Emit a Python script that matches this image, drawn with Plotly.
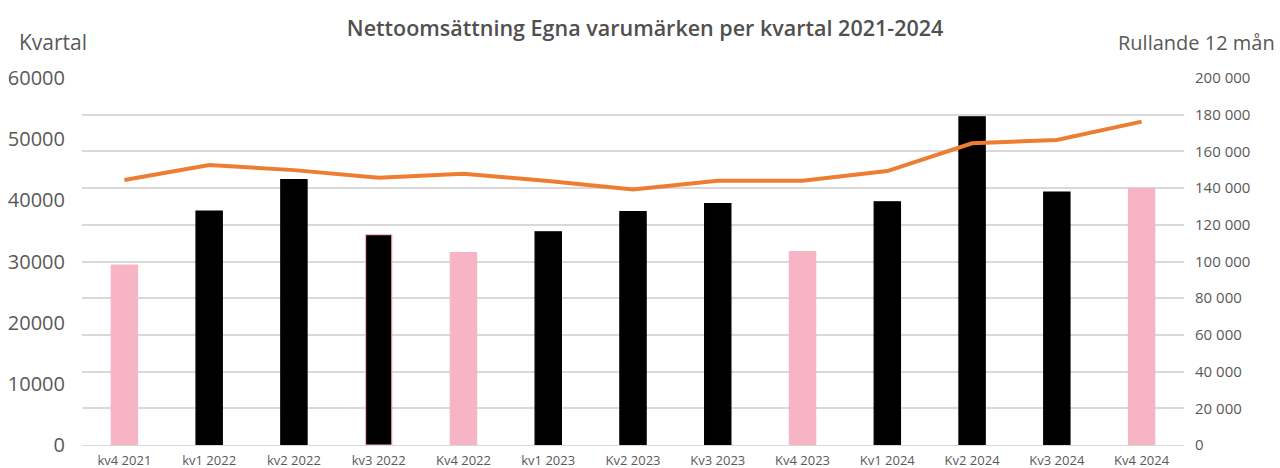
import plotly.graph_objects as go

categories = ["kv4 2021", "kv1 2022", "kv2 2022", "kv3 2022", "Kv4 2022", "kv1 2023",
              "Kv2 2023", "Kv3 2023", "Kv4 2023", "Kv1 2024", "Kv2 2024", "Kv3 2024", "Kv4 2024"]
kvartal = [29400, 38250, 43400, 34400, 31450, 34850, 38150, 39450, 31600, 39750, 53650, 41350, 41950]
rullande = [144400, 152600, 149800, 145700, 147800, 143900, 139300, 144000, 144000, 149300, 164400, 166200, 176200]
pink_quarters = ["kv4 2021", "Kv4 2022", "Kv4 2023", "Kv4 2024"]
pink_outline = ["kv3 2022"]

left_ticks = [0, 10000, 20000, 30000, 40000, 50000, 60000]
right_ticks = [0, 20000, 40000, 60000, 80000, 100000, 120000, 140000, 160000, 180000, 200000]

PINK = "#F7B4C5"
BLACK = "#000000"
ORANGE = "#ED7D31"
GRID = "#D9D9D9"
TXT = "#595959"
FONT = "Open Sans"

bar_colors = [PINK if c in pink_quarters else BLACK for c in categories]
line_colors = [PINK if (c in pink_quarters or c in pink_outline) else BLACK for c in categories]

fig = go.Figure()
fig.add_trace(go.Bar(
    x=categories, y=kvartal, name="Kvartal", yaxis="y",
    marker=dict(color=bar_colors, line=dict(color=line_colors, width=1.2)),
    width=0.31,
))
fig.add_trace(go.Scatter(
    x=categories, y=rullande, name="Rullande 12 mån", yaxis="y2",
    mode="lines", line=dict(color=ORANGE, width=4),
))

fig.update_layout(
    width=1280, height=468,
    paper_bgcolor="white", plot_bgcolor="white",
    margin=dict(l=82, r=96, t=78, b=23, autoexpand=False),
    showlegend=False,
    separators=", ",
    font=dict(family=FONT, color=TXT),
    title=dict(text="Nettoomsättning Egna varumärken per kvartal 2021-2024",
               x=0.511, xref="paper", xanchor="center", y=0.94, yref="container", yanchor="middle",
               font=dict(family=FONT, size=21.5, color="#505050", weight=600)),
    xaxis=dict(showgrid=False, showline=True, linecolor=GRID, linewidth=1, automargin=False,
               tickfont=dict(size=13, color=TXT), ticks="", ticklabelstandoff=3),
    yaxis=dict(range=[0, 60000], tickvals=left_ticks, tickformat="d", showgrid=False,
               zeroline=False, automargin=False,
               tickfont=dict(size=20, color=TXT), ticklabelstandoff=16),
    yaxis2=dict(range=[0, 200000], tickvals=right_ticks, tickformat=",d", overlaying="y",
                side="right", showgrid=True, gridcolor=GRID, gridwidth=1.5, zeroline=False,
                automargin=False,
                tickfont=dict(size=15, color=TXT), ticklabelstandoff=10),
    annotations=[
        dict(text="Kvartal", xref="paper", yref="paper", x=-0.059, y=1.0, yshift=36,
             xanchor="left", yanchor="middle", showarrow=False,
             font=dict(size=21, color=TXT)),
        dict(text="Rullande 12 mån", xref="paper", yref="paper", x=1.0847, y=1.0, yshift=36,
             xanchor="right", yanchor="middle", showarrow=False,
             font=dict(size=20, color=TXT)),
    ],
)

fig.write_html("out.html", config={"displayModeBar": False},
               post_script="document.body.style.margin='0';document.body.style.overflow='hidden';")
